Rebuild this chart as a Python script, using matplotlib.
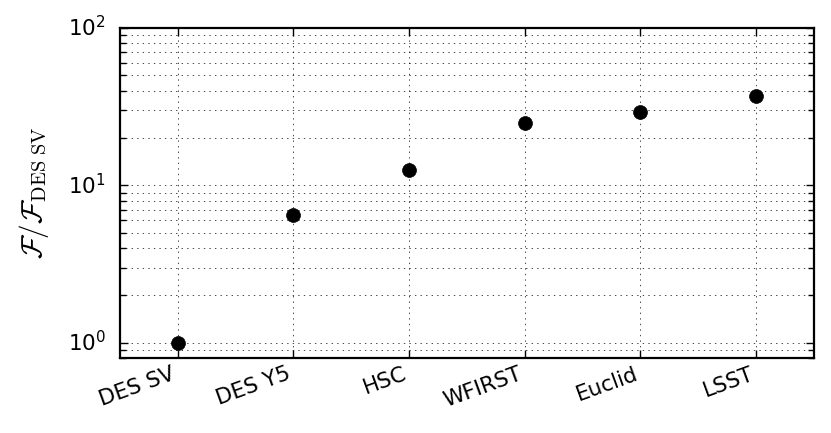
import numpy as np
import matplotlib
matplotlib.use('Agg')
import matplotlib.pyplot as plt

plt.style.use('classic')

# данные
surveys = ['DES SV', 'DES Y5', 'HSC', 'WFIRST', 'Euclid', 'LSST']
fisher_ratio = [1.0, 6.5, 12.5, 24.8, 29.4, 37.0]

fig = plt.figure(figsize=(8.31, 4.33), dpi=100, facecolor='white')
ax = fig.add_axes([0.1444, 0.1732, 0.8351, 0.7621])
x = np.arange(len(surveys))
ax.plot(x, fisher_ratio, 'o', color='black', markersize=10)
ax.set_yscale('log')
ax.set_xlim(-0.5, len(surveys) - 0.5)
ax.set_ylim(0.8, 100)
ax.set_xticks(x)
ax.set_xticklabels(surveys, rotation=20, ha='right', fontsize=15.5)
ax.tick_params(axis='y', labelsize=15.5, pad=10)
ax.tick_params(which='major', length=6, width=1)
ax.tick_params(which='minor', length=4, width=1)
for sp in ax.spines.values():
    sp.set_linewidth(1.6)
ax.set_ylabel(r'$\mathcal{F}/\mathcal{F}_{\rm DES\ SV}$', fontsize=21, labelpad=12)
ax.grid(True, which='both', linestyle=':', color='black')
fig.savefig('out.png', dpi=100, facecolor='white')
